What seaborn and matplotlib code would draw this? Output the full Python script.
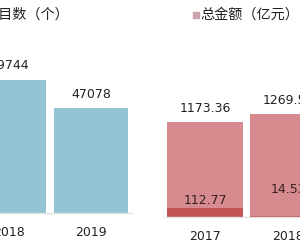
import matplotlib
matplotlib.use("Agg")
import matplotlib.pyplot as plt
from matplotlib.patches import Rectangle
import pandas as pd
import seaborn as sns

# left panel: number of projects
count_years = ["2018", "2019"]
count_values = [59744, 47078]
count_title = "项目数（个）"

# right panel: total amount, with the small part drawn on top
amount_years = ["2017", "2018"]
amount_total = [1173.36, 1269.52]
amount_part = [112.77, 14.53]
amount_title = "总金额（亿元）"

BLUE = "#93c4d3"
PINK = "#d68c8e"
DARK = "#c15454"
TEXT = "#222222"
CJK = ["Noto Sans CJK SC", "DejaVu Sans"]

sns.set_theme(style="white")
plt.rcParams["font.family"] = ["DejaVu Sans"]

W, H = 300, 245
fig = plt.figure(figsize=(W / 100, H / 100), dpi=100)


def px_axes(left, top, width, height):
    return fig.add_axes([left / W, 1 - (top + height) / H, width / W, height / H])


def style_axes(ax):
    for side in ["left", "top", "right"]:
        ax.spines[side].set_visible(False)
    ax.spines["bottom"].set_color("#e2e2e2")
    ax.spines["bottom"].set_linewidth(1)
    ax.set_yticks([])
    ax.set_xlabel("")
    ax.set_ylabel("")
    ax.set_xlim(-0.5, 1.5)
    ax.tick_params(axis="x", length=0, pad=9, labelsize=9, colors=TEXT)


# ---- left panel ----
df_count = pd.DataFrame({"year": count_years, "value": count_values})
ax1 = px_axes(-32, 13, 164, 200)
sns.barplot(data=df_count, x="year", y="value", order=count_years,
            color=BLUE, saturation=1, width=0.9, linewidth=0, ax=ax1)
ax1.set_ylim(0, 47078 * 200 / 105)
style_axes(ax1)
for i, v in enumerate(count_values):
    ax1.annotate(f"{v}", (i, v), xytext=(0, 10), textcoords="offset points",
                 ha="center", va="center", fontsize=9, color=TEXT)

# ---- right panel ----
df_amount = pd.DataFrame({"year": amount_years, "total": amount_total,
                          "part": amount_part})
ax2 = px_axes(163.5, 17, 166, 200)
sns.barplot(data=df_amount, x="year", y="total", order=amount_years,
            color=PINK, saturation=1, width=0.915, linewidth=0, ax=ax2)
sns.barplot(data=df_amount, x="year", y="part", order=amount_years,
            color=DARK, saturation=1, width=0.915, linewidth=0, ax=ax2)
ax2.set_ylim(0, 1173.36 * 200 / 95)
style_axes(ax2)
for i, v in enumerate(amount_total):
    ax2.annotate(f"{v:.2f}", (i, v), xytext=(0, 10), textcoords="offset points",
                 ha="center", va="center", fontsize=9, color=TEXT)
part_offsets = [5, 19]
for i, v in enumerate(amount_part):
    ax2.annotate(f"{v:.2f}", (i, v), xytext=(0, part_offsets[i]),
                 textcoords="offset points", ha="center", va="center",
                 fontsize=9, color="#3a1c1c")

# titles / legend-like labels
fig.text(-15 / W, 1 - 15 / H, count_title, fontsize=10.2, family=CJK,
         ha="left", va="center", color=TEXT)
fig.add_artist(Rectangle((193 / W, 1 - 18 / H), 6 / W, 6 / H,
                         transform=fig.transFigure, color="#c9a3a9"))
fig.text(200 / W, 1 - 15 / H, amount_title, fontsize=10.2, family=CJK,
         ha="left", va="center", color=TEXT)

fig.savefig("out.png", dpi=100)
